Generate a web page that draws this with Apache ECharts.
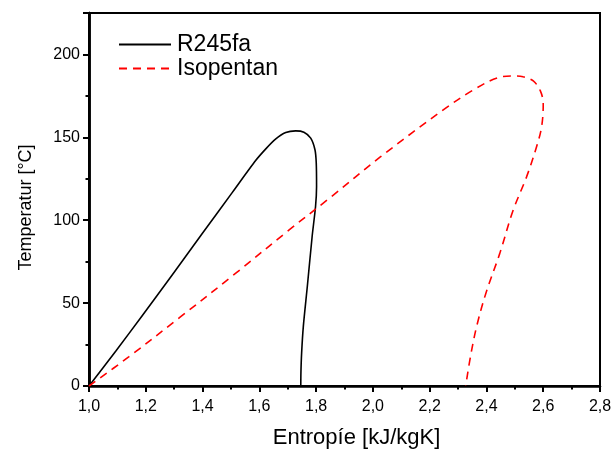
<!DOCTYPE html>
<html>
<head>
<meta charset="utf-8">
<script src="https://cdn.jsdelivr.net/npm/echarts@6/dist/echarts.min.js"></script>
<style>html,body{margin:0;padding:0;background:#fff}#c{width:613px;height:449px}</style>
</head>
<body>
<div id="c"></div>
<script>
// R245fa saturation curve (entropy kJ/kgK, temperature °C)
const sR245fa = [1.000, 1.094, 1.188, 1.293, 1.399, 1.505, 1.587, 1.622, 1.657, 1.693, 1.728, 1.757, 1.781, 1.796, 1.8005, 1.8016, 1.798, 1.786, 1.769, 1.755, 1.749, 1.7465, 1.746];
const tR245fa = [0, 21.0, 42.5, 67.0, 92.0, 116.8, 136.0, 142.9, 148.9, 152.9, 153.9, 153.1, 149.5, 142.5, 134.5, 120.4, 108.3, 90.2, 60.0, 36.0, 20.0, 8.0, 0];
// Isopentan saturation curve
const sIsopentan = [1.000, 1.141, 1.323, 1.516, 1.704, 1.845, 2.025, 2.254, 2.353, 2.441, 2.500, 2.529, 2.565, 2.590, 2.600, 2.594, 2.576, 2.541, 2.494, 2.447, 2.400, 2.367, 2.344, 2.327];
const tIsopentan = [0, 17.7, 41.8, 67.9, 94, 113, 138, 167.3, 178.5, 186, 187, 186.5, 184, 178, 170, 156, 144, 126, 106, 80, 57, 37, 18, 0];
const seriesNames = ['R245fa', 'Isopentan'];
const xTitle = 'Entropíe [kJ/kgK]';
const yTitle = 'Temperatur [°C]';

const FONT = 'Liberation Sans, Arial, sans-serif';
const pairs = (xs, ys) => xs.map((x, i) => [x, ys[i]]);

const chart = echarts.init(document.getElementById('c'), null, {renderer: 'canvas'});
chart.setOption({
  animation: false,
  backgroundColor: '#fff',
  textStyle: {fontFamily: FONT},
  grid: {left: 89, right: 13, top: 13, bottom: 63, containLabel: false, outerBoundsMode: 'none',
    show: true, borderColor: '#000', borderWidth: 2, backgroundColor: 'transparent'},
  legend: {
    data: seriesNames,
    orient: 'vertical',
    left: 118, top: 33, padding: 0,
    itemWidth: 52, itemHeight: 14, itemGap: 1,
    itemStyle: {opacity: 0},
    textStyle: {fontFamily: FONT, fontSize: 23, lineHeight: 23, color: '#000', padding: [0, 0, 0, 1]}
  },
  xAxis: {
    type: 'value', min: 1.0, max: 2.8, interval: 0.2,
    name: xTitle, nameLocation: 'middle', nameGap: 41,
    nameTextStyle: {fontFamily: FONT, fontSize: 22, color: '#000', padding: [0, 0, 0, 24]},
    axisLine: {show: true, lineStyle: {color: '#000', width: 2.5}},
    axisTick: {show: true, inside: false, length: 6, lineStyle: {color: '#000', width: 2}},
    minorTick: {show: true, splitNumber: 2, length: 3.5, lineStyle: {color: '#000', width: 2}},
    splitLine: {show: false},
    axisLabel: {margin: 13, fontFamily: FONT, fontSize: 16, color: '#000',
      formatter: v => v.toFixed(1).replace('.', ',')}
  },
  yAxis: [{
    type: 'value', min: 0, max: 225, interval: 25,
    name: yTitle, nameLocation: 'middle', nameGap: 54,
    nameTextStyle: {fontFamily: FONT, fontSize: 18, color: '#000', padding: [0, 16, 0, 0]},
    axisLine: {show: true, lineStyle: {color: '#000', width: 2.5}},
    axisTick: {show: true, inside: false, length: 3.5, lineStyle: {color: '#000', width: 2}},
    splitLine: {show: false},
    axisLabel: {margin: 9, fontFamily: FONT, fontSize: 16, color: '#000',
      formatter: v => (v % 50 === 0 ? String(v) : '')}
  }, {
    type: 'value', min: 0, max: 225, interval: 50, position: 'left', offset: 0,
    axisLine: {show: true, lineStyle: {color: '#000', width: 2.5}},
    axisTick: {show: true, inside: false, length: 6, lineStyle: {color: '#000', width: 2}},
    splitLine: {show: false},
    axisLabel: {show: false}
  }],
  series: [{
    name: seriesNames[0], type: 'line', yAxisIndex: 0,
    data: pairs(sR245fa, tR245fa),
    symbol: 'none', showSymbol: false, smooth: 0.25,
    lineStyle: {color: '#000', width: 1.6, type: 'solid'},
    itemStyle: {color: '#000'}
  }, {
    name: seriesNames[1], type: 'line', yAxisIndex: 0,
    data: pairs(sIsopentan, tIsopentan),
    symbol: 'none', showSymbol: false, smooth: 0.35,
    lineStyle: {color: '#ff0000', width: 1.6, type: [8, 6]},
    itemStyle: {color: '#ff0000'}
  }]
});
</script>
</body>
</html>
